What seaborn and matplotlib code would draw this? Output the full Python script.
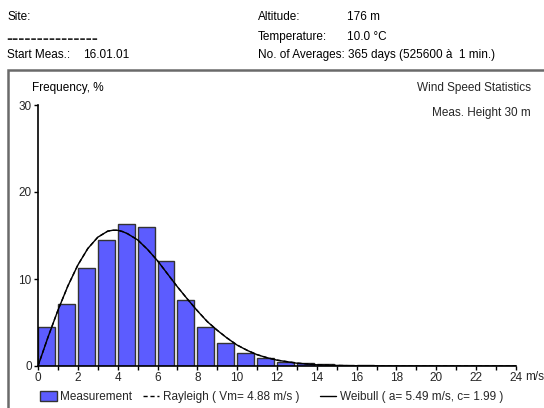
import matplotlib
matplotlib.use("Agg")
import matplotlib.pyplot as plt
from matplotlib.patches import Patch, Rectangle
from matplotlib.lines import Line2D
import seaborn as sns

# ---- data ----
speed_bins = list(range(0, 20))
frequency = [4.5, 7.1, 11.3, 14.5, 16.3, 16.0, 12.1, 7.6, 4.5, 2.6,
             1.45, 0.88, 0.5, 0.3, 0.18, 0.12, 0.08, 0.05, 0.04, 0.03]

curve_x = [0, 0.5, 1, 1.5, 2, 2.5, 3, 3.5, 3.75, 4, 4.25, 4.5, 5, 5.5, 6,
           6.5, 7, 7.5, 8, 8.5, 9, 9.5, 10, 10.5, 11, 11.5, 12, 13, 14, 15,
           16, 17, 18, 20, 22, 24]
weibull = [0, 3.3, 6.4, 9.2, 11.6, 13.5, 14.8, 15.5, 15.6, 15.6, 15.45, 15.2,
           14.5, 13.4, 12.1, 10.6, 9.1, 7.7, 6.35, 5.1, 4.1, 3.2, 2.4, 1.8,
           1.3, 0.95, 0.67, 0.32, 0.14, 0.06, 0.02, 0.01, 0, 0, 0, 0]
rayleigh = [0, 3.3, 6.4, 9.2, 11.6, 13.5, 14.8, 15.5, 15.6, 15.6, 15.45, 15.2,
            14.5, 13.4, 12.1, 10.6, 9.1, 7.7, 6.36, 5.11, 4.11, 3.21, 2.41,
            1.81, 1.31, 0.96, 0.68, 0.33, 0.15, 0.06, 0.02, 0.01, 0, 0, 0, 0]

x_ticks = list(range(0, 25, 2))
x_tick_labels = [str(v) for v in x_ticks]
y_ticks = [0, 10, 20, 30]

BAR_FACE = "#5c5cff"
BAR_EDGE = "#333333"
FS = 8.5

sns.set_theme(style="white")
plt.rcParams["font.family"] = ["Liberation Sans", "DejaVu Sans"]
plt.rcParams["font.size"] = FS

W, H = 544, 408
fig = plt.figure(figsize=(W / 100, H / 100), dpi=100)
fig.patch.set_facecolor("white")

def fx(px):
    return px / W

def fy(py):
    return 1 - py / H

# outer frame
fig.patches.append(Rectangle((fx(8), fy(420)), fx(560) - fx(8), fy(70) - fy(420),
                             transform=fig.transFigure, fill=False,
                             edgecolor="#6a6a6a", linewidth=1.8, zorder=0))

# header
hdr = dict(fontsize=FS, va="center", color="black")
fig.text(fx(7), fy(17), "Site:", **hdr)
fig.text(fx(6), fy(39), "-" * 15, fontsize=13, fontweight="bold", va="center")
fig.text(fx(7), fy(55), "Start Meas.:", **hdr)
fig.text(fx(83), fy(55), "16.01.01", **hdr)
fig.text(fx(258), fy(17), "Altitude:", **hdr)
fig.text(fx(347), fy(17), "176 m", **hdr)
fig.text(fx(258), fy(37), "Temperature:", **hdr)
fig.text(fx(347), fy(37), "10.0 °C", **hdr)
fig.text(fx(258), fy(55), "No. of Averages: 365 days (525600 à  1 min.)", **hdr)

# plot texts
fig.text(fx(32), fy(88), "Frequency, %", **hdr)
fig.text(fx(531), fy(88), "Wind Speed Statistics", ha="right", fontsize=FS, va="center")
fig.text(fx(531), fy(113), "Meas. Height 30 m", ha="right", fontsize=FS, va="center")

ax = fig.add_axes([fx(38), fy(366), fx(516) - fx(38), fy(105) - fy(366)])
ax.set_facecolor("none")

ax.bar(speed_bins, frequency, width=0.85, align="edge", color=BAR_FACE,
       edgecolor=BAR_EDGE, linewidth=1.0, zorder=2)
sns.lineplot(x=curve_x, y=rayleigh, ax=ax, color="black", linewidth=1.0,
             linestyle=(0, (3, 2)), zorder=3)
sns.lineplot(x=curve_x, y=weibull, ax=ax, color="black", linewidth=1.0, zorder=4)

ax.set_xlim(0, 24)
ax.set_ylim(0, 30)
ax.set_xticks(x_ticks)
ax.set_xticklabels(x_tick_labels)
ax.set_xticks(list(range(0, 25)), minor=True)
ax.set_yticks(y_ticks)
ax.tick_params(axis="both", which="both", direction="out", length=3, width=1,
               color="black", labelsize=FS, pad=1.5, bottom=True, left=True)
for s in ["top", "right"]:
    ax.spines[s].set_visible(False)
for s in ["left", "bottom"]:
    ax.spines[s].set_color("black")
    ax.spines[s].set_linewidth(1.2)
ax.set_xlabel("")
ax.set_ylabel("")
ax.annotate("m/s", xy=(24, 0), xycoords="data", xytext=(6.3, -3.3),
            textcoords="offset points", fontsize=FS, ha="left", va="top",
            annotation_clip=False)

handles = [Patch(facecolor=BAR_FACE, edgecolor=BAR_EDGE, linewidth=1.0),
           Line2D([0], [0], color="black", lw=1.0, linestyle=(0, (3, 2))),
           Line2D([0], [0], color="black", lw=1.0)]
labels = ["Measurement", "Rayleigh ( Vm= 4.88 m/s )   ",
          "Weibull ( a= 5.49 m/s, c= 1.99 )"]
fig.legend(handles, labels, loc="center left", bbox_to_anchor=(fx(40), fy(397)),
           ncol=3, frameon=False, fontsize=FS, handlelength=1.4,
           handleheight=0.9, handletextpad=0.3, columnspacing=0.9,
           borderpad=0, borderaxespad=0)

fig.savefig("out.png", dpi=100)
